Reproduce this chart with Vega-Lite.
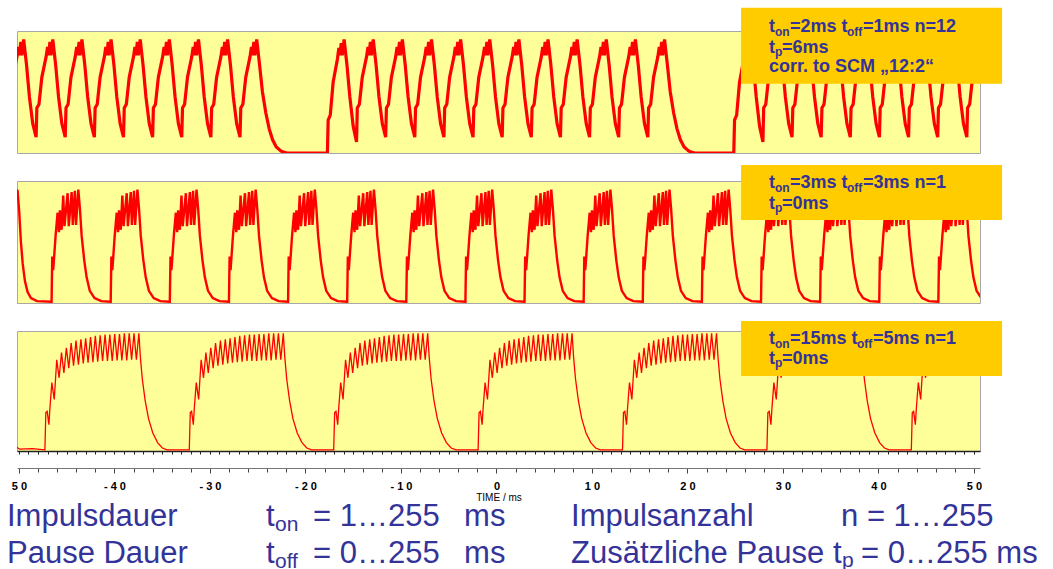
{
"$schema": "https://vega.github.io/schema/vega-lite/v6.json",
"padding": {"left": 6, "top": 7, "right": 2, "bottom": 0},
"background": "white",
"bounds": "flush",
"spacing": 28,
"config": {"view": {"stroke": "#A8A8A8"}, "text": {"font": "Liberation Sans"}},
"datasets": {
"p1": [
{"t":-51.6,"v":0.24},
{"t":-51.25,"v":0.13},{"t":-51.17,"v":0.37},{"t":-50.95,"v":0.4},{"t":-50.65,"v":0.62},{"t":-50.2,"v":0.79},{"t":-50.05,"v":0.87},{"t":-49.95,"v":0.8},{"t":-49.8,"v":0.91},{"t":-49.7,"v":0.8},{"t":-49.5,"v":0.93},{"t":-49.2,"v":0.72},{"t":-48.9,"v":0.46},{"t":-48.55,"v":0.24},
{"t":-48.2,"v":0.13},{"t":-48.12,"v":0.37},{"t":-47.9,"v":0.4},{"t":-47.6,"v":0.62},{"t":-47.15,"v":0.79},{"t":-47.0,"v":0.87},{"t":-46.9,"v":0.8},{"t":-46.75,"v":0.91},{"t":-46.65,"v":0.8},{"t":-46.45,"v":0.93},{"t":-46.15,"v":0.72},{"t":-45.85,"v":0.46},{"t":-45.5,"v":0.24},
{"t":-45.15,"v":0.13},{"t":-45.07,"v":0.37},{"t":-44.85,"v":0.4},{"t":-44.55,"v":0.62},{"t":-44.1,"v":0.79},{"t":-43.95,"v":0.87},{"t":-43.85,"v":0.8},{"t":-43.7,"v":0.91},{"t":-43.6,"v":0.8},{"t":-43.4,"v":0.93},{"t":-43.1,"v":0.72},{"t":-42.8,"v":0.46},{"t":-42.45,"v":0.24},
{"t":-42.1,"v":0.13},{"t":-42.02,"v":0.37},{"t":-41.8,"v":0.4},{"t":-41.5,"v":0.62},{"t":-41.05,"v":0.79},{"t":-40.9,"v":0.87},{"t":-40.8,"v":0.8},{"t":-40.65,"v":0.91},{"t":-40.55,"v":0.8},{"t":-40.35,"v":0.93},{"t":-40.05,"v":0.72},{"t":-39.75,"v":0.46},{"t":-39.4,"v":0.24},
{"t":-39.05,"v":0.13},{"t":-38.97,"v":0.37},{"t":-38.75,"v":0.4},{"t":-38.45,"v":0.62},{"t":-38.0,"v":0.79},{"t":-37.85,"v":0.87},{"t":-37.75,"v":0.8},{"t":-37.6,"v":0.91},{"t":-37.5,"v":0.8},{"t":-37.3,"v":0.93},{"t":-37.0,"v":0.72},{"t":-36.7,"v":0.46},{"t":-36.35,"v":0.24},
{"t":-36.0,"v":0.13},{"t":-35.92,"v":0.37},{"t":-35.7,"v":0.4},{"t":-35.4,"v":0.62},{"t":-34.95,"v":0.79},{"t":-34.8,"v":0.87},{"t":-34.7,"v":0.8},{"t":-34.55,"v":0.91},{"t":-34.45,"v":0.8},{"t":-34.25,"v":0.93},{"t":-33.95,"v":0.72},{"t":-33.65,"v":0.46},{"t":-33.3,"v":0.24},
{"t":-32.95,"v":0.13},{"t":-32.87,"v":0.37},{"t":-32.65,"v":0.4},{"t":-32.35,"v":0.62},{"t":-31.9,"v":0.79},{"t":-31.75,"v":0.87},{"t":-31.65,"v":0.8},{"t":-31.5,"v":0.91},{"t":-31.4,"v":0.8},{"t":-31.2,"v":0.93},{"t":-30.9,"v":0.72},{"t":-30.6,"v":0.46},{"t":-30.25,"v":0.24},
{"t":-29.9,"v":0.13},{"t":-29.82,"v":0.37},{"t":-29.6,"v":0.4},{"t":-29.3,"v":0.62},{"t":-28.85,"v":0.79},{"t":-28.7,"v":0.87},{"t":-28.6,"v":0.8},{"t":-28.45,"v":0.91},{"t":-28.35,"v":0.8},{"t":-28.15,"v":0.93},{"t":-27.85,"v":0.72},{"t":-27.55,"v":0.46},{"t":-27.2,"v":0.24},
{"t":-26.85,"v":0.13},{"t":-26.77,"v":0.37},{"t":-26.55,"v":0.4},{"t":-26.25,"v":0.62},{"t":-25.8,"v":0.79},{"t":-25.65,"v":0.87},{"t":-25.55,"v":0.8},{"t":-25.4,"v":0.91},{"t":-25.3,"v":0.8},{"t":-25.1,"v":0.93},{"t":-24.8,"v":0.72},{"t":-24.5,"v":0.5},{"t":-24.15,"v":0.33},{"t":-23.8,"v":0.2},{"t":-23.45,"v":0.11},{"t":-23.05,"v":0.05},{"t":-22.55,"v":0.015},{"t":-21.95,"v":0},
{"t":-17.7,"v":0},{"t":-17.62,"v":0.27},{"t":-17.4,"v":0.31},{"t":-17.1,"v":0.58},{"t":-16.65,"v":0.77},{"t":-16.5,"v":0.86},{"t":-16.4,"v":0.8},{"t":-16.25,"v":0.9},{"t":-16.15,"v":0.8},{"t":-15.95,"v":0.93},{"t":-15.65,"v":0.72},{"t":-15.35,"v":0.46},{"t":-15.0,"v":0.22},
{"t":-14.65,"v":0.09},{"t":-14.57,"v":0.37},{"t":-14.35,"v":0.4},{"t":-14.05,"v":0.62},{"t":-13.6,"v":0.79},{"t":-13.45,"v":0.87},{"t":-13.35,"v":0.8},{"t":-13.2,"v":0.91},{"t":-13.1,"v":0.8},{"t":-12.9,"v":0.93},{"t":-12.6,"v":0.72},{"t":-12.3,"v":0.46},{"t":-11.95,"v":0.24},
{"t":-11.6,"v":0.13},{"t":-11.52,"v":0.37},{"t":-11.3,"v":0.4},{"t":-11.0,"v":0.62},{"t":-10.55,"v":0.79},{"t":-10.4,"v":0.87},{"t":-10.3,"v":0.8},{"t":-10.15,"v":0.91},{"t":-10.05,"v":0.8},{"t":-9.85,"v":0.93},{"t":-9.55,"v":0.72},{"t":-9.25,"v":0.46},{"t":-8.9,"v":0.24},
{"t":-8.55,"v":0.13},{"t":-8.47,"v":0.37},{"t":-8.25,"v":0.4},{"t":-7.95,"v":0.62},{"t":-7.5,"v":0.79},{"t":-7.35,"v":0.87},{"t":-7.25,"v":0.8},{"t":-7.1,"v":0.91},{"t":-7.0,"v":0.8},{"t":-6.8,"v":0.93},{"t":-6.5,"v":0.72},{"t":-6.2,"v":0.46},{"t":-5.85,"v":0.24},
{"t":-5.5,"v":0.13},{"t":-5.42,"v":0.37},{"t":-5.2,"v":0.4},{"t":-4.9,"v":0.62},{"t":-4.45,"v":0.79},{"t":-4.3,"v":0.87},{"t":-4.2,"v":0.8},{"t":-4.05,"v":0.91},{"t":-3.95,"v":0.8},{"t":-3.75,"v":0.93},{"t":-3.45,"v":0.72},{"t":-3.15,"v":0.46},{"t":-2.8,"v":0.24},
{"t":-2.45,"v":0.13},{"t":-2.37,"v":0.37},{"t":-2.15,"v":0.4},{"t":-1.85,"v":0.62},{"t":-1.4,"v":0.79},{"t":-1.25,"v":0.87},{"t":-1.15,"v":0.8},{"t":-1.0,"v":0.91},{"t":-0.9,"v":0.8},{"t":-0.7,"v":0.93},{"t":-0.4,"v":0.72},{"t":-0.1,"v":0.46},{"t":0.25,"v":0.24},
{"t":0.6,"v":0.13},{"t":0.68,"v":0.37},{"t":0.9,"v":0.4},{"t":1.2,"v":0.62},{"t":1.65,"v":0.79},{"t":1.8,"v":0.87},{"t":1.9,"v":0.8},{"t":2.05,"v":0.91},{"t":2.15,"v":0.8},{"t":2.35,"v":0.93},{"t":2.65,"v":0.72},{"t":2.95,"v":0.46},{"t":3.3,"v":0.24},
{"t":3.65,"v":0.13},{"t":3.73,"v":0.37},{"t":3.95,"v":0.4},{"t":4.25,"v":0.62},{"t":4.7,"v":0.79},{"t":4.85,"v":0.87},{"t":4.95,"v":0.8},{"t":5.1,"v":0.91},{"t":5.2,"v":0.8},{"t":5.4,"v":0.93},{"t":5.7,"v":0.72},{"t":6.0,"v":0.46},{"t":6.35,"v":0.24},
{"t":6.7,"v":0.13},{"t":6.78,"v":0.37},{"t":7.0,"v":0.4},{"t":7.3,"v":0.62},{"t":7.75,"v":0.79},{"t":7.9,"v":0.87},{"t":8.0,"v":0.8},{"t":8.15,"v":0.91},{"t":8.25,"v":0.8},{"t":8.45,"v":0.93},{"t":8.75,"v":0.72},{"t":9.05,"v":0.46},{"t":9.4,"v":0.24},
{"t":9.75,"v":0.13},{"t":9.83,"v":0.37},{"t":10.05,"v":0.4},{"t":10.35,"v":0.62},{"t":10.8,"v":0.79},{"t":10.95,"v":0.87},{"t":11.05,"v":0.8},{"t":11.2,"v":0.91},{"t":11.3,"v":0.8},{"t":11.5,"v":0.93},{"t":11.8,"v":0.72},{"t":12.1,"v":0.46},{"t":12.45,"v":0.24},
{"t":12.8,"v":0.13},{"t":12.88,"v":0.37},{"t":13.1,"v":0.4},{"t":13.4,"v":0.62},{"t":13.85,"v":0.79},{"t":14.0,"v":0.87},{"t":14.1,"v":0.8},{"t":14.25,"v":0.91},{"t":14.35,"v":0.8},{"t":14.55,"v":0.93},{"t":14.85,"v":0.72},{"t":15.15,"v":0.46},{"t":15.5,"v":0.24},
{"t":15.85,"v":0.13},{"t":15.93,"v":0.37},{"t":16.15,"v":0.4},{"t":16.45,"v":0.62},{"t":16.9,"v":0.79},{"t":17.05,"v":0.87},{"t":17.15,"v":0.8},{"t":17.3,"v":0.91},{"t":17.4,"v":0.8},{"t":17.6,"v":0.93},{"t":17.9,"v":0.72},{"t":18.2,"v":0.5},{"t":18.55,"v":0.33},{"t":18.9,"v":0.2},{"t":19.25,"v":0.11},{"t":19.65,"v":0.05},{"t":20.15,"v":0.015},{"t":20.75,"v":0},
{"t":24.85,"v":0},{"t":24.93,"v":0.27},{"t":25.15,"v":0.31},{"t":25.45,"v":0.58},{"t":25.9,"v":0.77},{"t":26.05,"v":0.86},{"t":26.15,"v":0.8},{"t":26.3,"v":0.9},{"t":26.4,"v":0.8},{"t":26.6,"v":0.93},{"t":26.9,"v":0.72},{"t":27.2,"v":0.46},{"t":27.55,"v":0.22},
{"t":27.9,"v":0.09},{"t":27.98,"v":0.37},{"t":28.2,"v":0.4},{"t":28.5,"v":0.62},{"t":28.95,"v":0.79},{"t":29.1,"v":0.87},{"t":29.2,"v":0.8},{"t":29.35,"v":0.91},{"t":29.45,"v":0.8},{"t":29.65,"v":0.93},{"t":29.95,"v":0.72},{"t":30.25,"v":0.46},{"t":30.6,"v":0.24},
{"t":30.95,"v":0.13},{"t":31.03,"v":0.37},{"t":31.25,"v":0.4},{"t":31.55,"v":0.62},{"t":32.0,"v":0.79},{"t":32.15,"v":0.87},{"t":32.25,"v":0.8},{"t":32.4,"v":0.91},{"t":32.5,"v":0.8},{"t":32.7,"v":0.93},{"t":33.0,"v":0.72},{"t":33.3,"v":0.46},{"t":33.65,"v":0.24},
{"t":34.0,"v":0.13},{"t":34.08,"v":0.37},{"t":34.3,"v":0.4},{"t":34.6,"v":0.62},{"t":35.05,"v":0.79},{"t":35.2,"v":0.87},{"t":35.3,"v":0.8},{"t":35.45,"v":0.91},{"t":35.55,"v":0.8},{"t":35.75,"v":0.93},{"t":36.05,"v":0.72},{"t":36.35,"v":0.46},{"t":36.7,"v":0.24},
{"t":37.05,"v":0.13},{"t":37.13,"v":0.37},{"t":37.35,"v":0.4},{"t":37.65,"v":0.62},{"t":38.1,"v":0.79},{"t":38.25,"v":0.87},{"t":38.35,"v":0.8},{"t":38.5,"v":0.91},{"t":38.6,"v":0.8},{"t":38.8,"v":0.93},{"t":39.1,"v":0.72},{"t":39.4,"v":0.46},{"t":39.75,"v":0.24},
{"t":40.1,"v":0.13},{"t":40.18,"v":0.37},{"t":40.4,"v":0.4},{"t":40.7,"v":0.62},{"t":41.15,"v":0.79},{"t":41.3,"v":0.87},{"t":41.4,"v":0.8},{"t":41.55,"v":0.91},{"t":41.65,"v":0.8},{"t":41.85,"v":0.93},{"t":42.15,"v":0.72},{"t":42.45,"v":0.46},{"t":42.8,"v":0.24},
{"t":43.15,"v":0.13},{"t":43.23,"v":0.37},{"t":43.45,"v":0.4},{"t":43.75,"v":0.62},{"t":44.2,"v":0.79},{"t":44.35,"v":0.87},{"t":44.45,"v":0.8},{"t":44.6,"v":0.91},{"t":44.7,"v":0.8},{"t":44.9,"v":0.93},{"t":45.2,"v":0.72},{"t":45.5,"v":0.46},{"t":45.85,"v":0.24},
{"t":46.2,"v":0.13},{"t":46.28,"v":0.37},{"t":46.5,"v":0.4},{"t":46.8,"v":0.62},{"t":47.25,"v":0.79},{"t":47.4,"v":0.87},{"t":47.5,"v":0.8},{"t":47.65,"v":0.91},{"t":47.75,"v":0.8},{"t":47.95,"v":0.93},{"t":48.25,"v":0.72},{"t":48.55,"v":0.46},{"t":48.9,"v":0.24},
{"t":49.25,"v":0.13},{"t":49.33,"v":0.37},{"t":49.55,"v":0.4},{"t":49.85,"v":0.62},{"t":50.3,"v":0.79},{"t":50.45,"v":0.87},{"t":50.55,"v":0.8},{"t":50.7,"v":0.91}
],
"p2": [
{"t":-50.3,"v":0.93},{"t":-50.14,"v":0.92},{"t":-49.97,"v":0.75},{"t":-49.79,"v":0.5},{"t":-49.6,"v":0.32},{"t":-49.37,"v":0.18},{"t":-49.09,"v":0.09},{"t":-48.74,"v":0.04},{"t":-48.1,"v":0.015},
{"t":-46.58,"v":0.01},{"t":-46.51,"v":0.38},{"t":-46.41,"v":0.27},{"t":-46.3,"v":0.39},{"t":-46.16,"v":0.55},{"t":-45.95,"v":0.74},{"t":-45.81,"v":0.58},{"t":-45.71,"v":0.76},{"t":-45.53,"v":0.6},{"t":-45.36,"v":0.88},{"t":-45.23,"v":0.63},{"t":-44.9,"v":0.9},{"t":-44.78,"v":0.63},{"t":-44.48,"v":0.91},{"t":-44.36,"v":0.64},{"t":-44.14,"v":0.92},{"t":-44.02,"v":0.64},{"t":-43.78,"v":0.93},{"t":-43.61,"v":0.77},{"t":-43.43,"v":0.55},{"t":-43.16,"v":0.35},{"t":-42.91,"v":0.21},{"t":-42.58,"v":0.1},{"t":-42.08,"v":0.04},{"t":-41.38,"v":0.015},
{"t":-40.39,"v":0.01},{"t":-40.32,"v":0.38},{"t":-40.22,"v":0.27},{"t":-40.11,"v":0.39},{"t":-39.97,"v":0.55},{"t":-39.76,"v":0.74},{"t":-39.62,"v":0.58},{"t":-39.52,"v":0.76},{"t":-39.34,"v":0.6},{"t":-39.17,"v":0.88},{"t":-39.04,"v":0.63},{"t":-38.71,"v":0.9},{"t":-38.59,"v":0.63},{"t":-38.29,"v":0.91},{"t":-38.17,"v":0.64},{"t":-37.95,"v":0.92},{"t":-37.83,"v":0.64},{"t":-37.59,"v":0.93},{"t":-37.42,"v":0.77},{"t":-37.24,"v":0.55},{"t":-36.97,"v":0.35},{"t":-36.72,"v":0.21},{"t":-36.39,"v":0.1},{"t":-35.89,"v":0.04},{"t":-35.19,"v":0.015},
{"t":-34.2,"v":0.01},{"t":-34.13,"v":0.38},{"t":-34.03,"v":0.27},{"t":-33.92,"v":0.39},{"t":-33.78,"v":0.55},{"t":-33.57,"v":0.74},{"t":-33.43,"v":0.58},{"t":-33.33,"v":0.76},{"t":-33.15,"v":0.6},{"t":-32.98,"v":0.88},{"t":-32.85,"v":0.63},{"t":-32.52,"v":0.9},{"t":-32.4,"v":0.63},{"t":-32.1,"v":0.91},{"t":-31.98,"v":0.64},{"t":-31.76,"v":0.92},{"t":-31.64,"v":0.64},{"t":-31.4,"v":0.93},{"t":-31.23,"v":0.77},{"t":-31.05,"v":0.55},{"t":-30.78,"v":0.35},{"t":-30.53,"v":0.21},{"t":-30.2,"v":0.1},{"t":-29.7,"v":0.04},{"t":-29.0,"v":0.015},
{"t":-28.01,"v":0.01},{"t":-27.94,"v":0.38},{"t":-27.84,"v":0.27},{"t":-27.73,"v":0.39},{"t":-27.59,"v":0.55},{"t":-27.38,"v":0.74},{"t":-27.24,"v":0.58},{"t":-27.14,"v":0.76},{"t":-26.96,"v":0.6},{"t":-26.79,"v":0.88},{"t":-26.66,"v":0.63},{"t":-26.33,"v":0.9},{"t":-26.21,"v":0.63},{"t":-25.91,"v":0.91},{"t":-25.79,"v":0.64},{"t":-25.57,"v":0.92},{"t":-25.45,"v":0.64},{"t":-25.21,"v":0.93},{"t":-25.04,"v":0.77},{"t":-24.86,"v":0.55},{"t":-24.59,"v":0.35},{"t":-24.34,"v":0.21},{"t":-24.01,"v":0.1},{"t":-23.51,"v":0.04},{"t":-22.81,"v":0.015},
{"t":-21.82,"v":0.01},{"t":-21.75,"v":0.38},{"t":-21.65,"v":0.27},{"t":-21.54,"v":0.39},{"t":-21.4,"v":0.55},{"t":-21.19,"v":0.74},{"t":-21.05,"v":0.58},{"t":-20.95,"v":0.76},{"t":-20.77,"v":0.6},{"t":-20.6,"v":0.88},{"t":-20.47,"v":0.63},{"t":-20.14,"v":0.9},{"t":-20.02,"v":0.63},{"t":-19.72,"v":0.91},{"t":-19.6,"v":0.64},{"t":-19.38,"v":0.92},{"t":-19.26,"v":0.64},{"t":-19.02,"v":0.93},{"t":-18.85,"v":0.77},{"t":-18.67,"v":0.55},{"t":-18.4,"v":0.35},{"t":-18.15,"v":0.21},{"t":-17.82,"v":0.1},{"t":-17.32,"v":0.04},{"t":-16.62,"v":0.015},
{"t":-15.63,"v":0.01},{"t":-15.56,"v":0.38},{"t":-15.46,"v":0.27},{"t":-15.35,"v":0.39},{"t":-15.21,"v":0.55},{"t":-15.0,"v":0.74},{"t":-14.86,"v":0.58},{"t":-14.76,"v":0.76},{"t":-14.58,"v":0.6},{"t":-14.41,"v":0.88},{"t":-14.28,"v":0.63},{"t":-13.95,"v":0.9},{"t":-13.83,"v":0.63},{"t":-13.53,"v":0.91},{"t":-13.41,"v":0.64},{"t":-13.19,"v":0.92},{"t":-13.07,"v":0.64},{"t":-12.83,"v":0.93},{"t":-12.66,"v":0.77},{"t":-12.48,"v":0.55},{"t":-12.21,"v":0.35},{"t":-11.96,"v":0.21},{"t":-11.63,"v":0.1},{"t":-11.13,"v":0.04},{"t":-10.43,"v":0.015},
{"t":-9.44,"v":0.01},{"t":-9.37,"v":0.38},{"t":-9.27,"v":0.27},{"t":-9.16,"v":0.39},{"t":-9.02,"v":0.55},{"t":-8.81,"v":0.74},{"t":-8.67,"v":0.58},{"t":-8.57,"v":0.76},{"t":-8.39,"v":0.6},{"t":-8.22,"v":0.88},{"t":-8.09,"v":0.63},{"t":-7.76,"v":0.9},{"t":-7.64,"v":0.63},{"t":-7.34,"v":0.91},{"t":-7.22,"v":0.64},{"t":-7.0,"v":0.92},{"t":-6.88,"v":0.64},{"t":-6.64,"v":0.93},{"t":-6.47,"v":0.77},{"t":-6.29,"v":0.55},{"t":-6.02,"v":0.35},{"t":-5.77,"v":0.21},{"t":-5.44,"v":0.1},{"t":-4.94,"v":0.04},{"t":-4.24,"v":0.015},
{"t":-3.25,"v":0.01},{"t":-3.18,"v":0.38},{"t":-3.08,"v":0.27},{"t":-2.97,"v":0.39},{"t":-2.83,"v":0.55},{"t":-2.62,"v":0.74},{"t":-2.48,"v":0.58},{"t":-2.38,"v":0.76},{"t":-2.2,"v":0.6},{"t":-2.03,"v":0.88},{"t":-1.9,"v":0.63},{"t":-1.57,"v":0.9},{"t":-1.45,"v":0.63},{"t":-1.15,"v":0.91},{"t":-1.03,"v":0.64},{"t":-0.81,"v":0.92},{"t":-0.69,"v":0.64},{"t":-0.45,"v":0.93},{"t":-0.28,"v":0.77},{"t":-0.1,"v":0.55},{"t":0.17,"v":0.35},{"t":0.42,"v":0.21},{"t":0.75,"v":0.1},{"t":1.25,"v":0.04},{"t":1.95,"v":0.015},
{"t":2.94,"v":0.01},{"t":3.01,"v":0.38},{"t":3.11,"v":0.27},{"t":3.22,"v":0.39},{"t":3.36,"v":0.55},{"t":3.57,"v":0.74},{"t":3.71,"v":0.58},{"t":3.81,"v":0.76},{"t":3.99,"v":0.6},{"t":4.16,"v":0.88},{"t":4.29,"v":0.63},{"t":4.62,"v":0.9},{"t":4.74,"v":0.63},{"t":5.04,"v":0.91},{"t":5.16,"v":0.64},{"t":5.38,"v":0.92},{"t":5.5,"v":0.64},{"t":5.74,"v":0.93},{"t":5.91,"v":0.77},{"t":6.09,"v":0.55},{"t":6.36,"v":0.35},{"t":6.61,"v":0.21},{"t":6.94,"v":0.1},{"t":7.44,"v":0.04},{"t":8.14,"v":0.015},
{"t":9.13,"v":0.01},{"t":9.2,"v":0.38},{"t":9.3,"v":0.27},{"t":9.41,"v":0.39},{"t":9.55,"v":0.55},{"t":9.76,"v":0.74},{"t":9.9,"v":0.58},{"t":10.0,"v":0.76},{"t":10.18,"v":0.6},{"t":10.35,"v":0.88},{"t":10.48,"v":0.63},{"t":10.81,"v":0.9},{"t":10.93,"v":0.63},{"t":11.23,"v":0.91},{"t":11.35,"v":0.64},{"t":11.57,"v":0.92},{"t":11.69,"v":0.64},{"t":11.93,"v":0.93},{"t":12.1,"v":0.77},{"t":12.28,"v":0.55},{"t":12.55,"v":0.35},{"t":12.8,"v":0.21},{"t":13.13,"v":0.1},{"t":13.63,"v":0.04},{"t":14.33,"v":0.015},
{"t":15.32,"v":0.01},{"t":15.39,"v":0.38},{"t":15.49,"v":0.27},{"t":15.6,"v":0.39},{"t":15.74,"v":0.55},{"t":15.95,"v":0.74},{"t":16.09,"v":0.58},{"t":16.19,"v":0.76},{"t":16.37,"v":0.6},{"t":16.54,"v":0.88},{"t":16.67,"v":0.63},{"t":17.0,"v":0.9},{"t":17.12,"v":0.63},{"t":17.42,"v":0.91},{"t":17.54,"v":0.64},{"t":17.76,"v":0.92},{"t":17.88,"v":0.64},{"t":18.12,"v":0.93},{"t":18.29,"v":0.77},{"t":18.47,"v":0.55},{"t":18.74,"v":0.35},{"t":18.99,"v":0.21},{"t":19.32,"v":0.1},{"t":19.82,"v":0.04},{"t":20.52,"v":0.015},
{"t":21.51,"v":0.01},{"t":21.58,"v":0.38},{"t":21.68,"v":0.27},{"t":21.79,"v":0.39},{"t":21.93,"v":0.55},{"t":22.14,"v":0.74},{"t":22.28,"v":0.58},{"t":22.38,"v":0.76},{"t":22.56,"v":0.6},{"t":22.73,"v":0.88},{"t":22.86,"v":0.63},{"t":23.19,"v":0.9},{"t":23.31,"v":0.63},{"t":23.61,"v":0.91},{"t":23.73,"v":0.64},{"t":23.95,"v":0.92},{"t":24.07,"v":0.64},{"t":24.31,"v":0.93},{"t":24.48,"v":0.77},{"t":24.66,"v":0.55},{"t":24.93,"v":0.35},{"t":25.18,"v":0.21},{"t":25.51,"v":0.1},{"t":26.01,"v":0.04},{"t":26.71,"v":0.015},
{"t":27.7,"v":0.01},{"t":27.77,"v":0.38},{"t":27.87,"v":0.27},{"t":27.98,"v":0.39},{"t":28.12,"v":0.55},{"t":28.33,"v":0.74},{"t":28.47,"v":0.58},{"t":28.57,"v":0.76},{"t":28.75,"v":0.6},{"t":28.92,"v":0.88},{"t":29.05,"v":0.63},{"t":29.38,"v":0.9},{"t":29.5,"v":0.63},{"t":29.8,"v":0.91},{"t":29.92,"v":0.64},{"t":30.14,"v":0.92},{"t":30.26,"v":0.64},{"t":30.5,"v":0.93},{"t":30.67,"v":0.77},{"t":30.85,"v":0.55},{"t":31.12,"v":0.35},{"t":31.37,"v":0.21},{"t":31.7,"v":0.1},{"t":32.2,"v":0.04},{"t":32.9,"v":0.015},
{"t":33.89,"v":0.01},{"t":33.96,"v":0.38},{"t":34.06,"v":0.27},{"t":34.17,"v":0.39},{"t":34.31,"v":0.55},{"t":34.52,"v":0.74},{"t":34.66,"v":0.58},{"t":34.76,"v":0.76},{"t":34.94,"v":0.6},{"t":35.11,"v":0.88},{"t":35.24,"v":0.63},{"t":35.57,"v":0.9},{"t":35.69,"v":0.63},{"t":35.99,"v":0.91},{"t":36.11,"v":0.64},{"t":36.33,"v":0.92},{"t":36.45,"v":0.64},{"t":36.69,"v":0.93},{"t":36.86,"v":0.77},{"t":37.04,"v":0.55},{"t":37.31,"v":0.35},{"t":37.56,"v":0.21},{"t":37.89,"v":0.1},{"t":38.39,"v":0.04},{"t":39.09,"v":0.015},
{"t":40.08,"v":0.01},{"t":40.15,"v":0.38},{"t":40.25,"v":0.27},{"t":40.36,"v":0.39},{"t":40.5,"v":0.55},{"t":40.71,"v":0.74},{"t":40.85,"v":0.58},{"t":40.95,"v":0.76},{"t":41.13,"v":0.6},{"t":41.3,"v":0.88},{"t":41.43,"v":0.63},{"t":41.76,"v":0.9},{"t":41.88,"v":0.63},{"t":42.18,"v":0.91},{"t":42.3,"v":0.64},{"t":42.52,"v":0.92},{"t":42.64,"v":0.64},{"t":42.88,"v":0.93},{"t":43.05,"v":0.77},{"t":43.23,"v":0.55},{"t":43.5,"v":0.35},{"t":43.75,"v":0.21},{"t":44.08,"v":0.1},{"t":44.58,"v":0.04},{"t":45.28,"v":0.015},
{"t":46.27,"v":0.01},{"t":46.34,"v":0.38},{"t":46.44,"v":0.27},{"t":46.55,"v":0.39},{"t":46.69,"v":0.55},{"t":46.9,"v":0.74},{"t":47.04,"v":0.58},{"t":47.14,"v":0.76},{"t":47.32,"v":0.6},{"t":47.49,"v":0.88},{"t":47.62,"v":0.63},{"t":47.95,"v":0.9},{"t":48.07,"v":0.63},{"t":48.37,"v":0.91},{"t":48.49,"v":0.64},{"t":48.71,"v":0.92},{"t":48.83,"v":0.64},{"t":49.07,"v":0.93},{"t":49.24,"v":0.77},{"t":49.42,"v":0.55},{"t":49.69,"v":0.35},{"t":49.94,"v":0.21},{"t":50.27,"v":0.1},{"t":50.77,"v":0.04}
],
"p3": [
{"t":-50.3,"v":0.035},{"t":-49.9,"v":0.015},{"t":-48.6,"v":0.02},
{"t":-47.28,"v":0.01},{"t":-47.18,"v":0.32},{"t":-47.04,"v":0.33},{"t":-46.86,"v":0.22},{"t":-46.76,"v":0.35},{"t":-46.55,"v":0.57},{"t":-46.3,"v":0.43},{"t":-46.04,"v":0.76},{"t":-45.79,"v":0.61},{"t":-45.54,"v":0.82},{"t":-45.29,"v":0.65},{"t":-45.03,"v":0.86},{"t":-44.78,"v":0.69},{"t":-44.53,"v":0.9},{"t":-44.28,"v":0.71},{"t":-44.02,"v":0.92},{"t":-43.77,"v":0.72},{"t":-43.51,"v":0.93},{"t":-43.26,"v":0.73},{"t":-43.01,"v":0.94},{"t":-42.76,"v":0.735},{"t":-42.5,"v":0.95},{"t":-42.25,"v":0.74},{"t":-42.0,"v":0.96},{"t":-41.75,"v":0.745},{"t":-41.49,"v":0.965},{"t":-41.24,"v":0.75},{"t":-40.98,"v":0.97},{"t":-40.73,"v":0.75},{"t":-40.48,"v":0.97},{"t":-40.23,"v":0.75},{"t":-39.97,"v":0.975},{"t":-39.72,"v":0.755},{"t":-39.47,"v":0.975},{"t":-39.22,"v":0.755},{"t":-38.96,"v":0.98},{"t":-38.71,"v":0.755},{"t":-38.45,"v":0.98},{"t":-38.2,"v":0.76},{"t":-37.95,"v":0.98},{"t":-37.7,"v":0.76},{"t":-37.44,"v":0.98},{"t":-37.28,"v":0.78},{"t":-37.08,"v":0.6},{"t":-36.78,"v":0.42},{"t":-36.43,"v":0.27},{"t":-35.98,"v":0.15},{"t":-35.48,"v":0.07},{"t":-34.98,"v":0.025},{"t":-34.48,"v":0.01},
{"t":-32.16,"v":0.01},{"t":-32.06,"v":0.32},{"t":-31.92,"v":0.33},{"t":-31.74,"v":0.22},{"t":-31.64,"v":0.35},{"t":-31.43,"v":0.57},{"t":-31.18,"v":0.43},{"t":-30.92,"v":0.76},{"t":-30.67,"v":0.61},{"t":-30.42,"v":0.82},{"t":-30.17,"v":0.65},{"t":-29.91,"v":0.86},{"t":-29.66,"v":0.69},{"t":-29.41,"v":0.9},{"t":-29.16,"v":0.71},{"t":-28.9,"v":0.92},{"t":-28.65,"v":0.72},{"t":-28.39,"v":0.93},{"t":-28.14,"v":0.73},{"t":-27.89,"v":0.94},{"t":-27.64,"v":0.735},{"t":-27.38,"v":0.95},{"t":-27.13,"v":0.74},{"t":-26.88,"v":0.96},{"t":-26.63,"v":0.745},{"t":-26.37,"v":0.965},{"t":-26.12,"v":0.75},{"t":-25.86,"v":0.97},{"t":-25.61,"v":0.75},{"t":-25.36,"v":0.97},{"t":-25.11,"v":0.75},{"t":-24.85,"v":0.975},{"t":-24.6,"v":0.755},{"t":-24.35,"v":0.975},{"t":-24.1,"v":0.755},{"t":-23.84,"v":0.98},{"t":-23.59,"v":0.755},{"t":-23.33,"v":0.98},{"t":-23.08,"v":0.76},{"t":-22.83,"v":0.98},{"t":-22.58,"v":0.76},{"t":-22.32,"v":0.98},{"t":-22.16,"v":0.78},{"t":-21.96,"v":0.6},{"t":-21.66,"v":0.42},{"t":-21.31,"v":0.27},{"t":-20.86,"v":0.15},{"t":-20.36,"v":0.07},{"t":-19.86,"v":0.025},{"t":-19.36,"v":0.01},
{"t":-17.04,"v":0.01},{"t":-16.94,"v":0.32},{"t":-16.8,"v":0.33},{"t":-16.62,"v":0.22},{"t":-16.52,"v":0.35},{"t":-16.31,"v":0.57},{"t":-16.06,"v":0.43},{"t":-15.8,"v":0.76},{"t":-15.55,"v":0.61},{"t":-15.3,"v":0.82},{"t":-15.05,"v":0.65},{"t":-14.79,"v":0.86},{"t":-14.54,"v":0.69},{"t":-14.29,"v":0.9},{"t":-14.04,"v":0.71},{"t":-13.78,"v":0.92},{"t":-13.53,"v":0.72},{"t":-13.27,"v":0.93},{"t":-13.02,"v":0.73},{"t":-12.77,"v":0.94},{"t":-12.52,"v":0.735},{"t":-12.26,"v":0.95},{"t":-12.01,"v":0.74},{"t":-11.76,"v":0.96},{"t":-11.51,"v":0.745},{"t":-11.25,"v":0.965},{"t":-11.0,"v":0.75},{"t":-10.74,"v":0.97},{"t":-10.49,"v":0.75},{"t":-10.24,"v":0.97},{"t":-9.99,"v":0.75},{"t":-9.73,"v":0.975},{"t":-9.48,"v":0.755},{"t":-9.23,"v":0.975},{"t":-8.98,"v":0.755},{"t":-8.72,"v":0.98},{"t":-8.47,"v":0.755},{"t":-8.21,"v":0.98},{"t":-7.96,"v":0.76},{"t":-7.71,"v":0.98},{"t":-7.46,"v":0.76},{"t":-7.2,"v":0.98},{"t":-7.04,"v":0.78},{"t":-6.84,"v":0.6},{"t":-6.54,"v":0.42},{"t":-6.19,"v":0.27},{"t":-5.74,"v":0.15},{"t":-5.24,"v":0.07},{"t":-4.74,"v":0.025},{"t":-4.24,"v":0.01},
{"t":-1.92,"v":0.01},{"t":-1.82,"v":0.32},{"t":-1.68,"v":0.33},{"t":-1.5,"v":0.22},{"t":-1.4,"v":0.35},{"t":-1.19,"v":0.57},{"t":-0.94,"v":0.43},{"t":-0.68,"v":0.76},{"t":-0.43,"v":0.61},{"t":-0.18,"v":0.82},{"t":0.07,"v":0.65},{"t":0.33,"v":0.86},{"t":0.58,"v":0.69},{"t":0.83,"v":0.9},{"t":1.08,"v":0.71},{"t":1.34,"v":0.92},{"t":1.59,"v":0.72},{"t":1.85,"v":0.93},{"t":2.1,"v":0.73},{"t":2.35,"v":0.94},{"t":2.6,"v":0.735},{"t":2.86,"v":0.95},{"t":3.11,"v":0.74},{"t":3.36,"v":0.96},{"t":3.61,"v":0.745},{"t":3.87,"v":0.965},{"t":4.12,"v":0.75},{"t":4.38,"v":0.97},{"t":4.63,"v":0.75},{"t":4.88,"v":0.97},{"t":5.13,"v":0.75},{"t":5.39,"v":0.975},{"t":5.64,"v":0.755},{"t":5.89,"v":0.975},{"t":6.14,"v":0.755},{"t":6.4,"v":0.98},{"t":6.65,"v":0.755},{"t":6.91,"v":0.98},{"t":7.16,"v":0.76},{"t":7.41,"v":0.98},{"t":7.66,"v":0.76},{"t":7.92,"v":0.98},{"t":8.08,"v":0.78},{"t":8.28,"v":0.6},{"t":8.58,"v":0.42},{"t":8.93,"v":0.27},{"t":9.38,"v":0.15},{"t":9.88,"v":0.07},{"t":10.38,"v":0.025},{"t":10.88,"v":0.01},
{"t":13.2,"v":0.01},{"t":13.3,"v":0.32},{"t":13.44,"v":0.33},{"t":13.62,"v":0.22},{"t":13.72,"v":0.35},{"t":13.93,"v":0.57},{"t":14.18,"v":0.43},{"t":14.44,"v":0.76},{"t":14.69,"v":0.61},{"t":14.94,"v":0.82},{"t":15.19,"v":0.65},{"t":15.45,"v":0.86},{"t":15.7,"v":0.69},{"t":15.95,"v":0.9},{"t":16.2,"v":0.71},{"t":16.46,"v":0.92},{"t":16.71,"v":0.72},{"t":16.97,"v":0.93},{"t":17.22,"v":0.73},{"t":17.47,"v":0.94},{"t":17.72,"v":0.735},{"t":17.98,"v":0.95},{"t":18.23,"v":0.74},{"t":18.48,"v":0.96},{"t":18.73,"v":0.745},{"t":18.99,"v":0.965},{"t":19.24,"v":0.75},{"t":19.5,"v":0.97},{"t":19.75,"v":0.75},{"t":20.0,"v":0.97},{"t":20.25,"v":0.75},{"t":20.51,"v":0.975},{"t":20.76,"v":0.755},{"t":21.01,"v":0.975},{"t":21.26,"v":0.755},{"t":21.52,"v":0.98},{"t":21.77,"v":0.755},{"t":22.03,"v":0.98},{"t":22.28,"v":0.76},{"t":22.53,"v":0.98},{"t":22.78,"v":0.76},{"t":23.04,"v":0.98},{"t":23.2,"v":0.78},{"t":23.4,"v":0.6},{"t":23.7,"v":0.42},{"t":24.05,"v":0.27},{"t":24.5,"v":0.15},{"t":25.0,"v":0.07},{"t":25.5,"v":0.025},{"t":26.0,"v":0.01},
{"t":28.32,"v":0.01},{"t":28.42,"v":0.32},{"t":28.56,"v":0.33},{"t":28.74,"v":0.22},{"t":28.84,"v":0.35},{"t":29.05,"v":0.57},{"t":29.3,"v":0.43},{"t":29.56,"v":0.76},{"t":29.81,"v":0.61},{"t":30.06,"v":0.82},{"t":30.31,"v":0.65},{"t":30.57,"v":0.86},{"t":30.82,"v":0.69},{"t":31.07,"v":0.9},{"t":31.32,"v":0.71},{"t":31.58,"v":0.92},{"t":31.83,"v":0.72},{"t":32.09,"v":0.93},{"t":32.34,"v":0.73},{"t":32.59,"v":0.94},{"t":32.84,"v":0.735},{"t":33.1,"v":0.95},{"t":33.35,"v":0.74},{"t":33.6,"v":0.96},{"t":33.85,"v":0.745},{"t":34.11,"v":0.965},{"t":34.36,"v":0.75},{"t":34.62,"v":0.97},{"t":34.87,"v":0.75},{"t":35.12,"v":0.97},{"t":35.37,"v":0.75},{"t":35.63,"v":0.975},{"t":35.88,"v":0.755},{"t":36.13,"v":0.975},{"t":36.38,"v":0.755},{"t":36.64,"v":0.98},{"t":36.89,"v":0.755},{"t":37.15,"v":0.98},{"t":37.4,"v":0.76},{"t":37.65,"v":0.98},{"t":37.9,"v":0.76},{"t":38.16,"v":0.98},{"t":38.32,"v":0.78},{"t":38.52,"v":0.6},{"t":38.82,"v":0.42},{"t":39.17,"v":0.27},{"t":39.62,"v":0.15},{"t":40.12,"v":0.07},{"t":40.62,"v":0.025},{"t":41.12,"v":0.01},
{"t":43.44,"v":0.01},{"t":43.54,"v":0.32},{"t":43.68,"v":0.33},{"t":43.86,"v":0.22},{"t":43.96,"v":0.35},{"t":44.17,"v":0.57},{"t":44.42,"v":0.43},{"t":44.68,"v":0.76},{"t":44.93,"v":0.61},{"t":45.18,"v":0.82},{"t":45.43,"v":0.65},{"t":45.69,"v":0.86},{"t":45.94,"v":0.69},{"t":46.19,"v":0.9},{"t":46.44,"v":0.71},{"t":46.7,"v":0.92},{"t":46.95,"v":0.72},{"t":47.21,"v":0.93},{"t":47.46,"v":0.73},{"t":47.71,"v":0.94},{"t":47.96,"v":0.735},{"t":48.22,"v":0.95},{"t":48.47,"v":0.74},{"t":48.72,"v":0.96},{"t":48.97,"v":0.745},{"t":49.23,"v":0.965},{"t":49.48,"v":0.75},{"t":49.74,"v":0.97},{"t":49.99,"v":0.75},{"t":50.24,"v":0.97},{"t":50.49,"v":0.75},{"t":50.75,"v":0.975}
]
},
"vconcat": [
{
"width": 963, "height": 122,
"view": {"fill": "#FFFF99", "stroke": "#A8A8A8"},
"layer": [
{"data": {"name": "p1"},
 "mark": {"type": "line", "color": "#FF0000", "strokeWidth": 3.2, "clip": true},
 "encoding": {
  "x": {"field": "t", "type": "quantitative", "scale": {"domain": [-50.2, 50.63], "nice": false, "zero": false},
        "axis": {"title": null, "labels": false, "tickCount": 50, "tickSize": 3, "tickColor": "#222", "domainColor": "#222", "domainWidth": 1.5, "grid": false, "orient": "bottom"}},
  "y": {"field": "v", "type": "quantitative", "scale": {"domain": [0, 1], "nice": false, "zero": false},
        "axis": {"title": null, "labels": false, "values": [0, 0.142857, 0.285714, 0.428571, 0.571429, 0.714286, 0.857143, 1], "tickSize": 4, "tickColor": "#222", "domainColor": "#222", "domainWidth": 1.5, "grid": false}}
 }},
{"data": {"values": [{}]}, "mark": {"type": "rect", "color": "#FFCC00"},
 "encoding": {"x": {"datum": 25.61, "type": "quantitative", "axis": null}, "x2": {"datum": 52.94}, "y": {"datum": 1.191, "type": "quantitative", "axis": null}, "y2": {"datum": 0.568}}},
{"data": {"values": [{}]}, "mark": {"type": "text", "text": "t", "align": "left", "baseline": "alphabetic", "fontWeight": "bold", "fontSize": 18, "color": "#333399"},
 "encoding": {"x": {"datum": 28.54, "type": "quantitative", "axis": null}, "y": {"datum": 0.992, "type": "quantitative", "axis": null}}},
{"data": {"values": [{}]}, "mark": {"type": "text", "text": "on", "align": "left", "baseline": "alphabetic", "fontWeight": "bold", "fontSize": 12, "dx": 6, "dy": 4, "color": "#333399"},
 "encoding": {"x": {"datum": 28.54, "type": "quantitative", "axis": null}, "y": {"datum": 0.992, "type": "quantitative", "axis": null}}},
{"data": {"values": [{}]}, "mark": {"type": "text", "text": "=2ms t", "align": "left", "baseline": "alphabetic", "fontWeight": "bold", "fontSize": 18, "dx": 21, "color": "#333399"},
 "encoding": {"x": {"datum": 28.54, "type": "quantitative", "axis": null}, "y": {"datum": 0.992, "type": "quantitative", "axis": null}}},
{"data": {"values": [{}]}, "mark": {"type": "text", "text": "off", "align": "left", "baseline": "alphabetic", "fontWeight": "bold", "fontSize": 12, "dx": 78, "dy": 4, "color": "#333399"},
 "encoding": {"x": {"datum": 28.54, "type": "quantitative", "axis": null}, "y": {"datum": 0.992, "type": "quantitative", "axis": null}}},
{"data": {"values": [{}]}, "mark": {"type": "text", "text": "=1ms n=12", "align": "left", "baseline": "alphabetic", "fontWeight": "bold", "fontSize": 18, "dx": 94, "color": "#333399"},
 "encoding": {"x": {"datum": 28.54, "type": "quantitative", "axis": null}, "y": {"datum": 0.992, "type": "quantitative", "axis": null}}},
{"data": {"values": [{}]}, "mark": {"type": "text", "text": "t", "align": "left", "baseline": "alphabetic", "fontWeight": "bold", "fontSize": 18, "color": "#333399"},
 "encoding": {"x": {"datum": 28.54, "type": "quantitative", "axis": null}, "y": {"datum": 0.822, "type": "quantitative", "axis": null}}},
{"data": {"values": [{}]}, "mark": {"type": "text", "text": "p", "align": "left", "baseline": "alphabetic", "fontWeight": "bold", "fontSize": 12, "dx": 6, "dy": 3, "color": "#333399"},
 "encoding": {"x": {"datum": 28.54, "type": "quantitative", "axis": null}, "y": {"datum": 0.822, "type": "quantitative", "axis": null}}},
{"data": {"values": [{}]}, "mark": {"type": "text", "text": "=6ms", "align": "left", "baseline": "alphabetic", "fontWeight": "bold", "fontSize": 18, "dx": 13, "color": "#333399"},
 "encoding": {"x": {"datum": 28.54, "type": "quantitative", "axis": null}, "y": {"datum": 0.822, "type": "quantitative", "axis": null}}},
{"data": {"values": [{}]}, "mark": {"type": "text", "text": "corr. to SCM „12:2“", "align": "left", "baseline": "alphabetic", "fontWeight": "bold", "fontSize": 18, "color": "#333399"},
 "encoding": {"x": {"datum": 28.54, "type": "quantitative", "axis": null}, "y": {"datum": 0.664, "type": "quantitative", "axis": null}}}
]
},
{
"width": 963, "height": 122,
"view": {"fill": "#FFFF99", "stroke": "#A8A8A8"},
"layer": [
{"data": {"name": "p2"},
 "mark": {"type": "line", "color": "#FF0000", "strokeWidth": 2.4, "clip": true},
 "encoding": {
  "x": {"field": "t", "type": "quantitative", "scale": {"domain": [-50.2, 50.63], "nice": false, "zero": false},
        "axis": {"title": null, "labels": false, "tickCount": 100, "tickSize": 3, "tickColor": "#222", "domainColor": "#222", "domainWidth": 1.5, "grid": false, "orient": "bottom"}},
  "y": {"field": "v", "type": "quantitative", "scale": {"domain": [0, 1], "nice": false, "zero": false},
        "axis": {"title": null, "labels": false, "values": [0,0.05,0.1,0.15,0.2,0.25,0.3,0.35,0.4,0.45,0.5,0.55,0.6,0.65,0.7,0.75,0.8,0.85,0.9,0.95,1],
                 "tickSize": {"condition": {"test": "abs(datum.value*5-round(datum.value*5))<0.01", "value": 5}, "value": 3},
                 "tickColor": "#222", "domainColor": "#222", "domainWidth": 1.5, "grid": true, "gridColor": "#333", "gridWidth": 1,
                 "gridOpacity": {"condition": {"test": "abs(datum.value*5-round(datum.value*5))<0.01 && datum.value>0.01", "value": 1}, "value": 0}}}
 }},
{"data": {"values": [{}]}, "mark": {"type": "rect", "color": "#FFCC00"},
 "encoding": {"x": {"datum": 25.61, "type": "quantitative", "axis": null}, "x2": {"datum": 52.94}, "y": {"datum": 1.131, "type": "quantitative", "axis": null}, "y2": {"datum": 0.68}}},
{"data": {"values": [{}]}, "mark": {"type": "text", "text": "t", "align": "left", "baseline": "alphabetic", "fontWeight": "bold", "fontSize": 18, "color": "#333399"},
 "encoding": {"x": {"datum": 28.54, "type": "quantitative", "axis": null}, "y": {"datum": 0.94, "type": "quantitative", "axis": null}}},
{"data": {"values": [{}]}, "mark": {"type": "text", "text": "on", "align": "left", "baseline": "alphabetic", "fontWeight": "bold", "fontSize": 12, "dx": 6, "dy": 4, "color": "#333399"},
 "encoding": {"x": {"datum": 28.54, "type": "quantitative", "axis": null}, "y": {"datum": 0.94, "type": "quantitative", "axis": null}}},
{"data": {"values": [{}]}, "mark": {"type": "text", "text": "=3ms t", "align": "left", "baseline": "alphabetic", "fontWeight": "bold", "fontSize": 18, "dx": 21, "color": "#333399"},
 "encoding": {"x": {"datum": 28.54, "type": "quantitative", "axis": null}, "y": {"datum": 0.94, "type": "quantitative", "axis": null}}},
{"data": {"values": [{}]}, "mark": {"type": "text", "text": "off", "align": "left", "baseline": "alphabetic", "fontWeight": "bold", "fontSize": 12, "dx": 78, "dy": 4, "color": "#333399"},
 "encoding": {"x": {"datum": 28.54, "type": "quantitative", "axis": null}, "y": {"datum": 0.94, "type": "quantitative", "axis": null}}},
{"data": {"values": [{}]}, "mark": {"type": "text", "text": "=3ms n=1", "align": "left", "baseline": "alphabetic", "fontWeight": "bold", "fontSize": 18, "dx": 94, "color": "#333399"},
 "encoding": {"x": {"datum": 28.54, "type": "quantitative", "axis": null}, "y": {"datum": 0.94, "type": "quantitative", "axis": null}}},
{"data": {"values": [{}]}, "mark": {"type": "text", "text": "t", "align": "left", "baseline": "alphabetic", "fontWeight": "bold", "fontSize": 18, "color": "#333399"},
 "encoding": {"x": {"datum": 28.54, "type": "quantitative", "axis": null}, "y": {"datum": 0.768, "type": "quantitative", "axis": null}}},
{"data": {"values": [{}]}, "mark": {"type": "text", "text": "p", "align": "left", "baseline": "alphabetic", "fontWeight": "bold", "fontSize": 12, "dx": 6, "dy": 3, "color": "#333399"},
 "encoding": {"x": {"datum": 28.54, "type": "quantitative", "axis": null}, "y": {"datum": 0.768, "type": "quantitative", "axis": null}}},
{"data": {"values": [{}]}, "mark": {"type": "text", "text": "=0ms", "align": "left", "baseline": "alphabetic", "fontWeight": "bold", "fontSize": 18, "dx": 13, "color": "#333399"},
 "encoding": {"x": {"datum": 28.54, "type": "quantitative", "axis": null}, "y": {"datum": 0.768, "type": "quantitative", "axis": null}}}
]
},
{
"width": 963, "height": 120,
"view": {"fill": "#FFFF99", "stroke": "#A8A8A8"},
"resolve": {"axis": {"x": "independent"}},
"layer": [
{"data": {"name": "p3"},
 "mark": {"type": "line", "color": "#FF0000", "strokeWidth": 1.3, "clip": true},
 "encoding": {
  "x": {"field": "t", "type": "quantitative", "scale": {"domain": [-50.2, 50.63], "nice": false, "zero": false},
        "axis": {"title": null, "labels": false, "tickCount": 100, "tickSize": 3, "tickColor": "#222", "domainColor": "#222", "domainWidth": 1.5, "grid": false, "orient": "bottom"}},
  "y": {"field": "v", "type": "quantitative", "scale": {"domain": [0, 1], "nice": false, "zero": false},
        "axis": {"title": null, "labels": false, "values": [0,0.0833,0.1667,0.25,0.3333,0.4167,0.5,0.5833,0.6667,0.75,0.8333,0.9167,1],
                 "tickSize": {"condition": {"test": "abs(datum.value*3-round(datum.value*3))<0.01", "value": 5}, "value": 3},
                 "tickColor": "#222", "domainColor": "#222", "domainWidth": 1.5, "grid": true, "gridColor": "#333", "gridWidth": 1,
                 "gridOpacity": {"condition": {"test": "abs(datum.value*3-round(datum.value*3))<0.01 && datum.value>0.01 && datum.value<0.99", "value": 1}, "value": 0}}}
 }},
{"data": {"name": "p3"},
 "mark": {"type": "line", "opacity": 0, "clip": true},
 "encoding": {
  "x": {"field": "t", "type": "quantitative",
        "axis": {"orient": "bottom", "offset": 17, "tickCount": 50, "grid": false,
                 "labelExpr": "datum.value % 10 != 0 ? '' : (datum.value == -50 ? '5 0' : join(split(toString(datum.value), ''), ' '))",
                 "tickSize": {"condition": {"test": "datum.value % 10 == 0", "value": 5}, "value": 4},
                 "tickColor": "#444", "domainColor": "#777", "labelFont": "Liberation Sans Narrow, Liberation Sans", "labelFontWeight": "bold", "labelFontSize": 11, "labelColor": "#000",
                 "labelPadding": 7, "labelFlush": false, "labelOverlap": false,
                 "title": "TIME / ms", "titleFont": "Liberation Sans Narrow, Liberation Sans", "titleFontWeight": "normal", "titleFontSize": 10, "titlePadding": 1, "titleColor": "#000"}},
  "y": {"field": "v", "type": "quantitative", "axis": null}
 }},
{"data": {"values": [{}]}, "mark": {"type": "rect", "color": "#FFCC00"},
 "encoding": {"x": {"datum": 25.61, "type": "quantitative", "axis": null}, "x2": {"datum": 52.94}, "y": {"datum": 1.083, "type": "quantitative", "axis": null}, "y2": {"datum": 0.625}}},
{"data": {"values": [{}]}, "mark": {"type": "text", "text": "t", "align": "left", "baseline": "alphabetic", "fontWeight": "bold", "fontSize": 18, "color": "#333399"},
 "encoding": {"x": {"datum": 28.54, "type": "quantitative", "axis": null}, "y": {"datum": 0.894, "type": "quantitative", "axis": null}}},
{"data": {"values": [{}]}, "mark": {"type": "text", "text": "on", "align": "left", "baseline": "alphabetic", "fontWeight": "bold", "fontSize": 12, "dx": 6, "dy": 4, "color": "#333399"},
 "encoding": {"x": {"datum": 28.54, "type": "quantitative", "axis": null}, "y": {"datum": 0.894, "type": "quantitative", "axis": null}}},
{"data": {"values": [{}]}, "mark": {"type": "text", "text": "=15ms t", "align": "left", "baseline": "alphabetic", "fontWeight": "bold", "fontSize": 18, "dx": 21, "color": "#333399"},
 "encoding": {"x": {"datum": 28.54, "type": "quantitative", "axis": null}, "y": {"datum": 0.894, "type": "quantitative", "axis": null}}},
{"data": {"values": [{}]}, "mark": {"type": "text", "text": "off", "align": "left", "baseline": "alphabetic", "fontWeight": "bold", "fontSize": 12, "dx": 88, "dy": 4, "color": "#333399"},
 "encoding": {"x": {"datum": 28.54, "type": "quantitative", "axis": null}, "y": {"datum": 0.894, "type": "quantitative", "axis": null}}},
{"data": {"values": [{}]}, "mark": {"type": "text", "text": "=5ms n=1", "align": "left", "baseline": "alphabetic", "fontWeight": "bold", "fontSize": 18, "dx": 104, "color": "#333399"},
 "encoding": {"x": {"datum": 28.54, "type": "quantitative", "axis": null}, "y": {"datum": 0.894, "type": "quantitative", "axis": null}}},
{"data": {"values": [{}]}, "mark": {"type": "text", "text": "t", "align": "left", "baseline": "alphabetic", "fontWeight": "bold", "fontSize": 18, "color": "#333399"},
 "encoding": {"x": {"datum": 28.54, "type": "quantitative", "axis": null}, "y": {"datum": 0.7225, "type": "quantitative", "axis": null}}},
{"data": {"values": [{}]}, "mark": {"type": "text", "text": "p", "align": "left", "baseline": "alphabetic", "fontWeight": "bold", "fontSize": 12, "dx": 6, "dy": 3, "color": "#333399"},
 "encoding": {"x": {"datum": 28.54, "type": "quantitative", "axis": null}, "y": {"datum": 0.7225, "type": "quantitative", "axis": null}}},
{"data": {"values": [{}]}, "mark": {"type": "text", "text": "=0ms", "align": "left", "baseline": "alphabetic", "fontWeight": "bold", "fontSize": 18, "dx": 13, "color": "#333399"},
 "encoding": {"x": {"datum": 28.54, "type": "quantitative", "axis": null}, "y": {"datum": 0.7225, "type": "quantitative", "axis": null}}}
]
},
{
"width": 963, "height": 91,
"view": {"stroke": null, "fill": null},
"layer": [
{"data": {"values": [{}]}, "mark": {"type": "text", "text": "Impulsdauer", "align": "left", "baseline": "alphabetic", "fontSize": 31, "color": "#333399"},
 "encoding": {"x": {"datum": -51.25, "type": "quantitative", "scale": {"domain": [-50.2, 50.63], "nice": false, "zero": false}, "axis": null},
              "y": {"datum": 1, "type": "quantitative", "scale": {"domain": [-0.27, 2.19], "reverse": true, "nice": false, "zero": false}, "axis": null}}},
{"data": {"values": [{}]}, "mark": {"type": "text", "text": "t", "align": "left", "baseline": "alphabetic", "fontSize": 31, "color": "#333399"},
 "encoding": {"x": {"datum": -24.13, "type": "quantitative", "axis": null}, "y": {"datum": 1, "type": "quantitative", "axis": null}}},
{"data": {"values": [{}]}, "mark": {"type": "text", "text": "on", "align": "left", "baseline": "alphabetic", "fontSize": 21, "dx": 9, "dy": 5, "color": "#333399"},
 "encoding": {"x": {"datum": -24.13, "type": "quantitative", "axis": null}, "y": {"datum": 1, "type": "quantitative", "axis": null}}},
{"data": {"values": [{}]}, "mark": {"type": "text", "text": "= 1…255", "align": "left", "baseline": "alphabetic", "fontSize": 31, "color": "#333399"},
 "encoding": {"x": {"datum": -19.2, "type": "quantitative", "axis": null}, "y": {"datum": 1, "type": "quantitative", "axis": null}}},
{"data": {"values": [{}]}, "mark": {"type": "text", "text": "ms", "align": "left", "baseline": "alphabetic", "fontSize": 31, "color": "#333399"},
 "encoding": {"x": {"datum": -3.39, "type": "quantitative", "axis": null}, "y": {"datum": 1, "type": "quantitative", "axis": null}}},
{"data": {"values": [{}]}, "mark": {"type": "text", "text": "Impulsanzahl", "align": "left", "baseline": "alphabetic", "fontSize": 31, "color": "#333399"},
 "encoding": {"x": {"datum": 7.81, "type": "quantitative", "axis": null}, "y": {"datum": 1, "type": "quantitative", "axis": null}}},
{"data": {"values": [{}]}, "mark": {"type": "text", "text": "n = 1…255", "align": "left", "baseline": "alphabetic", "fontSize": 31, "color": "#333399"},
 "encoding": {"x": {"datum": 36.08, "type": "quantitative", "axis": null}, "y": {"datum": 1, "type": "quantitative", "axis": null}}},
{"data": {"values": [{}]}, "mark": {"type": "text", "text": "Pause Dauer", "align": "left", "baseline": "alphabetic", "fontSize": 31, "color": "#333399"},
 "encoding": {"x": {"datum": -51.25, "type": "quantitative", "axis": null}, "y": {"datum": 2, "type": "quantitative", "axis": null}}},
{"data": {"values": [{}]}, "mark": {"type": "text", "text": "t", "align": "left", "baseline": "alphabetic", "fontSize": 31, "color": "#333399"},
 "encoding": {"x": {"datum": -24.13, "type": "quantitative", "axis": null}, "y": {"datum": 2, "type": "quantitative", "axis": null}}},
{"data": {"values": [{}]}, "mark": {"type": "text", "text": "off", "align": "left", "baseline": "alphabetic", "fontSize": 21, "dx": 9, "dy": 5, "color": "#333399"},
 "encoding": {"x": {"datum": -24.13, "type": "quantitative", "axis": null}, "y": {"datum": 2, "type": "quantitative", "axis": null}}},
{"data": {"values": [{}]}, "mark": {"type": "text", "text": "= 0…255", "align": "left", "baseline": "alphabetic", "fontSize": 31, "color": "#333399"},
 "encoding": {"x": {"datum": -19.2, "type": "quantitative", "axis": null}, "y": {"datum": 2, "type": "quantitative", "axis": null}}},
{"data": {"values": [{}]}, "mark": {"type": "text", "text": "ms", "align": "left", "baseline": "alphabetic", "fontSize": 31, "color": "#333399"},
 "encoding": {"x": {"datum": -3.39, "type": "quantitative", "axis": null}, "y": {"datum": 2, "type": "quantitative", "axis": null}}},
{"data": {"values": [{}]}, "mark": {"type": "text", "text": "Zusätzliche Pause t", "align": "left", "baseline": "alphabetic", "fontSize": 31, "color": "#333399"},
 "encoding": {"x": {"datum": 7.81, "type": "quantitative", "axis": null}, "y": {"datum": 2, "type": "quantitative", "axis": null}}},
{"data": {"values": [{}]}, "mark": {"type": "text", "text": "p", "align": "left", "baseline": "alphabetic", "fontSize": 21, "dx": 271, "dy": 4, "color": "#333399"},
 "encoding": {"x": {"datum": 7.81, "type": "quantitative", "axis": null}, "y": {"datum": 2, "type": "quantitative", "axis": null}}},
{"data": {"values": [{}]}, "mark": {"type": "text", "text": "= 0…255 ms", "align": "left", "baseline": "alphabetic", "fontSize": 31, "color": "#333399", "dx": 290},
 "encoding": {"x": {"datum": 7.81, "type": "quantitative", "axis": null}, "y": {"datum": 2, "type": "quantitative", "axis": null}}}
]
}
]
}
